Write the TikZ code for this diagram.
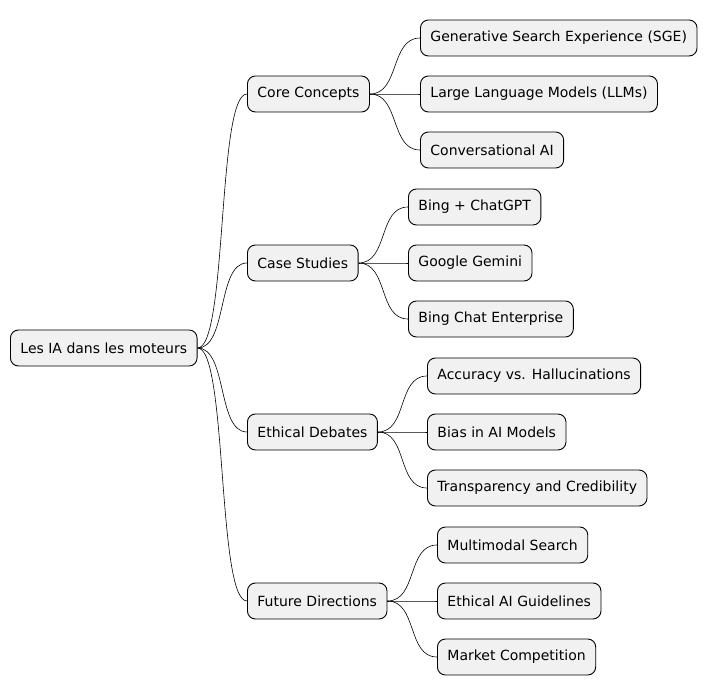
\documentclass[tikz,border=0pt]{standalone}
\usepackage{fontspec}
\setmainfont{DejaVu Sans}
\usetikzlibrary{positioning}
\definecolor{boxfill}{HTML}{F1F1F1}
\tikzset{
  topic/.style={draw=black, fill=boxfill, rounded corners=8pt, minimum height=36pt,
    inner xsep=10pt, anchor=west, font=\fontsize{14pt}{16pt}\selectfont, line width=0.9pt},
  branch/.style={draw=black, line width=0.6pt},
}
\begin{document}
\begin{tikzpicture}[x=1pt,y=-1pt]
\useasboundingbox (0,0) rectangle (716,695);

% root
\node[topic] (root) at (10,348) {Les IA dans les moteurs};

% first level
\node[topic] (core) at (247,94) {Core Concepts};
\node[topic] (cases) at (247,263) {Case Studies};
\node[topic] (ethics) at (247,432) {Ethical Debates};
\node[topic] (future) at (247,601) {Future Directions};

% second level
\node[topic] (sge) at (420,38) {Generative Search Experience (SGE)};
\node[topic] (llm) at (420,94) {Large Language Models (LLMs)};
\node[topic] (conv) at (420,150) {Conversational AI};
\node[topic] (bing) at (408,207) {Bing + ChatGPT};
\node[topic] (gemini) at (408,263) {Google Gemini};
\node[topic] (bce) at (408,319) {Bing Chat Enterprise};
\node[topic] (acc) at (427,376) {Accuracy vs. Hallucinations};
\node[topic] (bias) at (427,432) {Bias in AI Models};
\node[topic] (trans) at (427,488) {Transparency and Credibility};
\node[topic] (multi) at (437,545) {Multimodal Search};
\node[topic] (guide) at (437,601) {Ethical AI Guidelines};
\node[topic] (market) at (437,657) {Market Competition};

% connectors
\foreach \p/\c in {root/core,root/cases,root/ethics,root/future,
  core/sge,core/llm,core/conv,cases/bing,cases/gemini,cases/bce,
  ethics/acc,ethics/bias,ethics/trans,future/multi,future/guide,future/market}
  \draw[branch] (\p.east) .. controls +(30,0) and +(-30,0) .. (\c.west);
\end{tikzpicture}
\end{document}
